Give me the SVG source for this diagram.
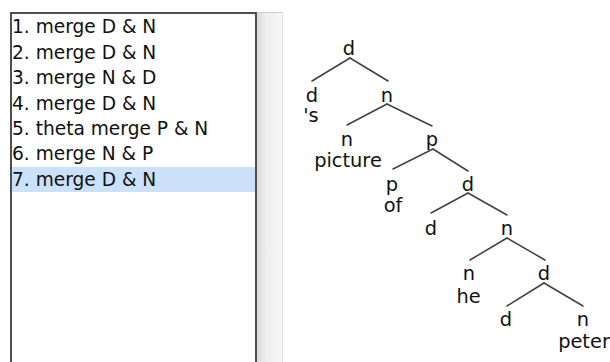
<svg xmlns="http://www.w3.org/2000/svg" width="610" height="362" viewBox="0 0 610 362">
<defs>
<linearGradient id="strip" x1="0" y1="0" x2="1" y2="0">
<stop offset="0" stop-color="#d9d9d9"/>
<stop offset="0.35" stop-color="#eeeeee"/>
<stop offset="1" stop-color="#f7f7f7"/>
</linearGradient>
<style>
.li{font-family:"DejaVu Sans","Noto Sans",sans-serif;font-size:18.6px;fill:#111}
.t{font-family:"DejaVu Sans","Noto Sans",sans-serif;font-size:19.4px;fill:#111;text-anchor:middle}
.e{stroke:#404040;stroke-width:1.5;fill:none;stroke-linecap:round}
</style>
</defs>
<rect width="610" height="362" fill="#ffffff"/>
<g id="sidebar">
<rect x="257" y="12" width="25" height="350" fill="url(#strip)"/>
<line x1="257" y1="12.5" x2="282" y2="12.5" stroke="#cfcfcf" stroke-width="1"/>
<line x1="282.5" y1="12" x2="282.5" y2="362" stroke="#e4e4e4" stroke-width="1"/>
</g>
<g id="list">
<rect x="11" y="13" width="245" height="360" fill="#ffffff" stroke="#3c3c3c" stroke-width="1.8"/>
<rect x="12" y="167" width="243" height="25" fill="#cbe1fa"/>
<text class="li" x="12" y="33.3">1. merge D &amp; N</text>
<text class="li" x="12" y="58.7">2. merge D &amp; N</text>
<text class="li" x="12" y="84.1">3. merge N &amp; D</text>
<text class="li" x="12" y="109.5">4. merge D &amp; N</text>
<text class="li" x="12" y="134.9">5. theta merge P &amp; N</text>
<text class="li" x="12" y="160.3">6. merge N &amp; P</text>
<text class="li" x="12" y="185.7">7. merge D &amp; N</text>
</g>
<g id="connectors">
<line class="e" x1="350" y1="58" x2="312" y2="81"/>
<line class="e" x1="350" y1="58" x2="388" y2="81"/>
<line class="e" x1="387" y1="104" x2="347" y2="125"/>
<line class="e" x1="387" y1="104" x2="432" y2="126"/>
<line class="e" x1="433" y1="149" x2="393" y2="169"/>
<line class="e" x1="433" y1="149" x2="468" y2="171"/>
<line class="e" x1="468" y1="193" x2="431" y2="213"/>
<line class="e" x1="468" y1="193" x2="507" y2="215"/>
<line class="e" x1="507" y1="238" x2="470" y2="260"/>
<line class="e" x1="507" y1="238" x2="545" y2="260"/>
<line class="e" x1="544" y1="283" x2="507" y2="306"/>
<line class="e" x1="544" y1="283" x2="583" y2="306"/>
</g>
<g id="n1"><text class="t" x="349" y="55">d</text></g>
<g id="n2"><text class="t" x="312" y="101.5">d</text><text class="t" x="311" y="121.5">'s</text></g>
<g id="n3"><text class="t" x="387" y="101.5">n</text></g>
<g id="n4"><text class="t" x="347" y="146">n</text><text class="t" x="348" y="166.5">picture</text></g>
<g id="n5"><text class="t" x="432" y="146">p</text></g>
<g id="n6"><text class="t" x="392" y="191">p</text><text class="t" x="393" y="211.5">of</text></g>
<g id="n7"><text class="t" x="468" y="191">d</text></g>
<g id="n8"><text class="t" x="431" y="235">d</text></g>
<g id="n9"><text class="t" x="507" y="235">n</text></g>
<g id="n10"><text class="t" x="469" y="280">n</text><text class="t" x="468.5" y="302.5">he</text></g>
<g id="n11"><text class="t" x="544" y="280">d</text></g>
<g id="n12"><text class="t" x="506" y="326">d</text></g>
<g id="n13"><text class="t" x="583" y="326">n</text><text class="t" x="584" y="348">peter</text></g>
</svg>
